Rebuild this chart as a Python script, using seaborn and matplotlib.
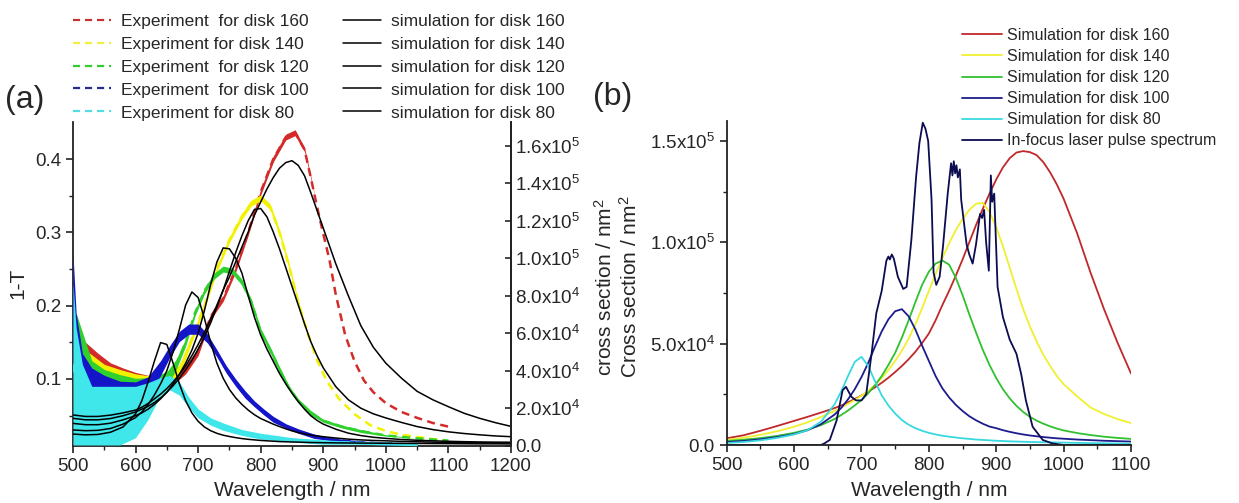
import numpy as np
import matplotlib
matplotlib.use("Agg")
import matplotlib.pyplot as plt
from matplotlib.ticker import MultipleLocator, FixedLocator
from matplotlib.lines import Line2D
import seaborn as sns

# ---------------- data: panel (a) experiments (1-T): mean and noise half-width ----------------
exp160_wl = [510, 520, 540, 560, 580, 600, 620, 640, 660, 680, 700, 720, 740, 760, 780, 800, 820, 840, 855, 870, 880, 890, 900, 910, 920, 935, 950, 965, 980, 1000, 1025, 1050, 1075, 1105]
exp160 = [0.125, 0.12, 0.11, 0.102, 0.097, 0.094, 0.093, 0.095, 0.100, 0.113, 0.137, 0.185, 0.210, 0.250, 0.300, 0.355, 0.400, 0.430, 0.436, 0.413, 0.375, 0.335, 0.298, 0.262, 0.215, 0.160, 0.124, 0.098, 0.082, 0.067, 0.055, 0.047, 0.040, 0.034]
exp160_sd = [0.03, 0.03, 0.025, 0.02, 0.018, 0.015, 0.012, 0.01, 0.008, 0.006, 0.005, 0.004, 0.004, 0.004, 0.004, 0.004, 0.004, 0.004, 0.004, 0.003, 0.002, 0, 0, 0, 0, 0, 0, 0, 0, 0, 0, 0, 0, 0]

exp140_wl = [510, 530, 550, 575, 600, 625, 650, 670, 690, 710, 730, 750, 770, 785, 800, 815, 830, 845, 860, 875, 890, 905, 925, 950, 975, 1000, 1025, 1050, 1075, 1100]
exp140 = [0.115, 0.108, 0.10, 0.095, 0.092, 0.092, 0.098, 0.112, 0.155, 0.20, 0.25, 0.29, 0.322, 0.34, 0.347, 0.335, 0.30, 0.255, 0.205, 0.162, 0.126, 0.098, 0.073, 0.052, 0.037, 0.029, 0.024, 0.021, 0.018, 0.015]
exp140_sd = [0.03, 0.025, 0.02, 0.018, 0.015, 0.012, 0.01, 0.007, 0.005, 0.004, 0.004, 0.004, 0.004, 0.004, 0.004, 0.004, 0.004, 0.004, 0.003, 0.002, 0, 0, 0, 0, 0, 0, 0, 0, 0, 0]

exp120_wl = [505, 530, 550, 575, 600, 625, 650, 665, 680, 695, 710, 725, 740, 755, 770, 785, 800, 815, 830, 845, 860, 880, 900, 930, 960, 1000, 1050, 1100]
exp120 = [0.13, 0.10, 0.093, 0.088, 0.086, 0.09, 0.10, 0.12, 0.15, 0.19, 0.22, 0.24, 0.25, 0.247, 0.232, 0.205, 0.165, 0.14, 0.113, 0.088, 0.07, 0.054, 0.043, 0.035, 0.029, 0.023, 0.019, 0.016]
exp120_sd = [0.06, 0.025, 0.02, 0.018, 0.015, 0.012, 0.01, 0.007, 0.005, 0.004, 0.004, 0.004, 0.004, 0.004, 0.004, 0.004, 0.004, 0.004, 0.004, 0.003, 0.003, 0.003, 0.002, 0.002, 0.002, 0.001, 0, 0]

exp100_wl = [500, 505, 515, 530, 550, 575, 600, 620, 640, 655, 670, 685, 700, 715, 730, 745, 760, 775, 790, 805, 820, 840, 860, 885, 910, 940, 970, 1010]
exp100 = [0.2, 0.14, 0.105, 0.09, 0.08, 0.075, 0.078, 0.09, 0.115, 0.138, 0.158, 0.168, 0.168, 0.155, 0.135, 0.113, 0.095, 0.079, 0.066, 0.055, 0.045, 0.036, 0.029, 0.022, 0.018, 0.015, 0.013, 0.012]
exp100_sd = [0.07, 0.05, 0.03, 0.025, 0.025, 0.022, 0.018, 0.013, 0.01, 0.008, 0.007, 0.007, 0.007, 0.006, 0.005, 0.005, 0.005, 0.005, 0.004, 0.004, 0.004, 0.003, 0.003, 0.003, 0.002, 0.002, 0.002, 0.002]

exp80_wl = [500, 505, 515, 530, 550, 575, 600, 620, 640, 655, 670, 685, 700, 720, 740, 770, 800, 850, 900, 950, 1000, 1050]
exp80 = [0.12, 0.09, 0.065, 0.05, 0.05, 0.05, 0.055, 0.07, 0.09, 0.095, 0.087, 0.068, 0.053, 0.042, 0.035, 0.027, 0.022, 0.017, 0.014, 0.013, 0.012, 0.011]
exp80_sd = [0.11, 0.08, 0.055, 0.04, 0.04, 0.04, 0.035, 0.025, 0.012, 0.01, 0.009, 0.007, 0.006, 0.005, 0.005, 0.004, 0.004, 0.003, 0.003, 0.002, 0.002, 0.002]

# ---------------- data: panel (a) simulations (cross section, 1e3 nm^2) ----------------
sim_a_wl = [500, 520, 540, 560, 580, 600, 610, 620, 630, 640, 650, 660, 670, 680, 690, 700, 710, 720, 730, 740, 750, 760, 770, 780, 790, 800, 810, 820, 830, 840, 850, 860, 870, 880, 890, 900, 920, 940, 960, 980, 1000, 1025, 1050, 1075, 1100, 1125, 1150, 1175, 1200]
sim_a_160 = [16.4, 15.6, 15.6, 16.3, 17.5, 19, 20.5, 22.5, 25, 27.5, 30.5, 34, 38, 42.5, 48, 54, 60.5, 67.5, 75, 83, 90, 98, 106, 114, 123, 130, 137, 143, 148, 151, 152, 149.5, 144, 135, 125.5, 116, 97, 80, 64, 52.5, 44, 36, 29, 24.5, 20.8, 17.3, 14.6, 12.3, 10.3]
sim_a_140 = [14.6, 13.8, 13.8, 14.5, 16, 18, 19.5, 21, 23, 25.5, 28.5, 32, 36, 40.5, 45.5, 51.5, 58, 65.5, 74, 83, 93, 103, 112, 120, 126, 126.5, 122, 114, 105, 95, 85, 75, 65, 55.5, 48, 41.5, 31.5, 24.5, 20, 17, 14.8, 12.4, 10.2, 8.6, 7.4, 6.5, 5.8, 5.2, 4.8]
sim_a_120 = [11.9, 11.2, 11.2, 12, 13.8, 16, 17.5, 19.5, 22, 25, 28.5, 33, 38, 44, 51, 60, 72, 86, 98, 105.5, 105, 100, 92, 80, 68.5, 59, 51.5, 45, 38.5, 33, 28, 23.5, 19.5, 16, 13.5, 11.5, 8.8, 6.7, 5.4, 4.5, 3.9, 3.3, 2.9, 2.6, 2.35, 2.15, 2.0, 1.9, 1.85]
sim_a_100 = [8.4, 8.0, 8.2, 9.2, 11.5, 15, 18, 22, 27, 33, 40, 50, 62, 75, 82, 79, 68, 55, 44, 36, 30, 25.5, 22, 19, 16.5, 14.5, 13, 11.5, 10.2, 9, 7.9, 7.0, 6.3, 5.7, 5.2, 4.8, 4.1, 3.5, 3.1, 2.8, 2.6, 2.3, 2.1, 1.9, 1.8, 1.7, 1.6, 1.5, 1.45]
sim_a_80 = [6.2, 5.8, 6.0, 7.2, 10, 17, 24, 34, 45, 55, 54, 44, 33, 24, 17.5, 13, 10, 8, 6.6, 5.6, 4.9, 4.3, 3.8, 3.4, 3.1, 2.8, 2.6, 2.4, 2.2, 2.1, 2.0, 1.9, 1.8, 1.7, 1.65, 1.6, 1.5, 1.45, 1.4, 1.35, 1.3, 1.25, 1.2, 1.15, 1.1, 1.05, 1.0, 1.0, 0.95]

# ---------------- data: panel (b) (cross section, 1e3 nm^2) ----------------
sim_b_wl = [500, 525, 550, 575, 600, 620, 640, 660, 670, 680, 690, 700, 710, 720, 730, 740, 750, 760, 770, 780, 790, 800, 810, 820, 830, 840, 850, 860, 870, 880, 890, 900, 910, 920, 930, 940, 950, 960, 970, 980, 990, 1000, 1020, 1040, 1060, 1080, 1100]
sim_b_160 = [3.3, 4.8, 7.0, 9.4, 11.9, 13.9, 16, 18.2, 19.5, 21, 22.7, 24.4, 26.3, 28.4, 30.7, 33.2, 36, 39, 42.3, 46, 50.3, 55, 61.5, 69, 76, 83.5, 91.5, 100, 108.5, 116.5, 124, 131, 137, 141.5, 144.3, 145, 144.5, 143, 139.5, 134.5, 128.5, 121.5, 104.5, 85, 67, 50.5, 35.3]
sim_b_140 = [2.5, 3.6, 5.0, 6.8, 9.0, 11.2, 13.8, 16.8, 18.5, 20.3, 22.2, 24.3, 26.8, 29.6, 33, 37, 41.5, 46.5, 52.5, 59.5, 67.5, 76, 84.5, 92, 99.5, 106, 111.5, 116, 119, 119.5, 115, 107.5, 98, 87.5, 77, 67, 58.5, 51, 44.5, 39, 34, 30, 24, 18.5, 15.3, 12.8, 10.8]
sim_b_120 = [2.0, 2.6, 3.4, 4.5, 6.0, 7.6, 9.8, 12.8, 14.8, 17, 19.5, 22.2, 25.5, 29.5, 34, 39.5, 45.5, 53, 61.5, 70.5, 79, 85.5, 89.5, 91, 89, 82.5, 74, 64.5, 55.5, 47, 39.5, 33, 27.5, 23, 19.3, 16.3, 13.9, 12, 10.5, 9.2, 8.1, 7.2, 5.9, 4.9, 4.1, 3.5, 3.0]
sim_b_100 = [1.5, 2.0, 2.8, 3.9, 5.4, 7.3, 10.3, 15, 18.3, 22.5, 27.5, 33.5, 40.5, 48.5, 56, 62, 66, 67, 63.5, 57, 49, 41.5, 34, 28, 23.5, 19.8, 16.8, 14.2, 12.2, 10.5, 9.1, 8.3, 7.3, 6.5, 5.8, 5.2, 4.7, 4.3, 3.9, 3.6, 3.3, 3.1, 2.7, 2.4, 2.1, 1.9, 1.7]
sim_b_80 = [1.0, 1.5, 2.3, 3.5, 5.2, 7.3, 11.5, 20, 26.5, 34, 41, 43.5, 39, 31.5, 24.5, 19.5, 15.5, 12.3, 10, 8.3, 7, 6, 5.2, 4.6, 4.1, 3.7, 3.3, 3.0, 2.7, 2.5, 2.3, 2.1, 1.95, 1.8, 1.7, 1.6, 1.5, 1.4, 1.35, 1.3, 1.25, 1.2, 1.05, 0.95, 0.85, 0.75, 0.65]

laser_wl = [500, 600, 640, 645, 653, 663, 672, 677, 685, 692, 700, 707, 715, 722, 730, 737, 740, 742, 745, 748, 754, 762, 767, 774, 781, 786, 791, 795, 799, 804, 807, 811, 816, 821, 828, 833, 835, 837, 839, 841, 843, 846, 848, 856, 860, 865, 870, 876, 879, 882, 885, 889, 892, 894, 897, 902, 910, 920, 930, 937, 944, 954, 969, 983, 1000, 1100]
laser = [0, 0, 0, 0.8, 2.5, 12, 27, 28.7, 23.8, 22, 22, 25, 45, 65, 76, 91, 93, 91.5, 94, 92, 83, 77, 78, 101, 132, 149, 159, 156, 150, 121, 85, 79, 83, 98, 124, 139, 133, 140, 134, 138, 132, 136, 121, 99, 94, 89.5, 99, 114, 112, 116, 100, 86, 133, 120, 124, 78, 63, 52, 45, 35, 22, 9, 2.5, 0.8, 0, 0]

exp_labels = ["Experiment  for disk 160", "Experiment for disk 140", "Experiment  for disk 120",
              "Experiment  for disk 100", "Experiment for disk 80"]
sim_labels_a = ["simulation for disk 160", "simulation for disk 140", "simulation for disk 120",
                "simulation for disk 100", "simulation for disk 80"]
sim_labels_b = ["Simulation for disk 160", "Simulation for disk 140", "Simulation for disk 120",
                "Simulation for disk 100", "Simulation for disk 80"]
laser_label = "In-focus laser pulse spectrum"

# ---------------- style ----------------
sns.set_theme(style="ticks")
plt.rcParams["font.family"] = ["Liberation Sans", "DejaVu Sans"]
plt.rcParams["mathtext.fontset"] = "custom"
plt.rcParams["mathtext.rm"] = "Liberation Sans"
plt.rcParams["mathtext.it"] = "Liberation Sans:italic"
plt.rcParams["mathtext.bf"] = "Liberation Sans:bold"
plt.rcParams["axes.linewidth"] = 1.3
plt.rcParams["axes.edgecolor"] = "#222222"

exp_colors = ["#d42a2a", "#f2f200", "#2ed12e", "#1414c8", "#3fe6ea"]
exp_leg_colors = ["#c83232", "#f0f040", "#33cc33", "#2a2a8a", "#55dde6"]
b_colors = ["#c0282a", "#f0f030", "#30c030", "#1c1c8c", "#38d8e0"]
laser_color = "#0c0c50"

fig = plt.figure(figsize=(12.39, 5.03), dpi=100)
ax = fig.add_axes([73 / 1239, 1 - 445.7 / 503, (511 - 73) / 1239, (445.7 - 121.7) / 503])
axr = ax.twinx()
axb = fig.add_axes([726.7 / 1239, 1 - 445 / 503, (1131 - 726.7) / 1239, (445 - 120.7) / 503])

# ---- panel (a) experiments: dashed line, then its noise band on top (drawn 160 -> 80)
exps = [(exp160_wl, exp160, exp160_sd), (exp140_wl, exp140, exp140_sd), (exp120_wl, exp120, exp120_sd),
        (exp100_wl, exp100, exp100_sd), (exp80_wl, exp80, exp80_sd)]
z = 1
for (wl, v, sd), c in zip(exps, exp_colors):
    v = np.array(v); sd = np.array(sd)
    sns.lineplot(x=wl, y=v, ax=ax, color=c, lw=1.8, sort=False, estimator=None, zorder=z)
    ax.lines[-1].set_dashes((3.2, 2.2))
    ax.fill_between(wl, v - sd, v + sd, color=c, lw=0, zorder=z + 0.5)
    z += 1
ax.set_xlim(500, 1200)
ax.set_ylim(0.009, 0.451)

# ---- panel (a) simulations on right axis
for sim in [sim_a_160, sim_a_140, sim_a_120, sim_a_100, sim_a_80]:
    sns.lineplot(x=sim_a_wl, y=np.array(sim) * 1e3, ax=axr, color="black", lw=1.1, sort=False, estimator=None)
axr.set_ylim(0, 1.728e5)
axr.set_xlim(500, 1200)

# ---- panel (b)
for sim, c in zip([sim_b_160, sim_b_140, sim_b_120, sim_b_100, sim_b_80], b_colors):
    sns.lineplot(x=sim_b_wl, y=np.array(sim) * 1e3, ax=axb, color=c, lw=1.3, sort=False, estimator=None)
sns.lineplot(x=laser_wl, y=np.array(laser) * 1e3, ax=axb, color=laser_color, lw=1.3, sort=False, estimator=None)
axb.set_xlim(500, 1100)
axb.set_ylim(0, 1.6e5)

# ---- ticks / spines
tick_fs = 13.5
for a in (ax, axb):
    a.tick_params(axis="both", which="major", direction="out", length=5, width=1.2, labelsize=tick_fs, color="#222222")
    a.tick_params(axis="both", which="minor", direction="out", length=3, width=1.0, color="#222222")
    a.xaxis.set_major_locator(MultipleLocator(100))
    a.xaxis.set_minor_locator(MultipleLocator(50))
ax.spines["top"].set_visible(False)
axr.spines["top"].set_visible(False)
axr.spines["left"].set_visible(False)
axr.spines["bottom"].set_visible(False)
axb.spines["top"].set_visible(False)
axb.spines["right"].set_visible(False)
ax.yaxis.set_major_locator(FixedLocator([0.1, 0.2, 0.3, 0.4]))
ax.yaxis.set_minor_locator(FixedLocator([0.05, 0.15, 0.25, 0.35]))
ax.set_yticklabels(["0.1", "0.2", "0.3", "0.4"])


def sci(v):
    if v == 0:
        return "0.0"
    e = int(np.floor(np.log10(v)))
    m = v / 10 ** e
    return f"{m:.1f}x10$^{{{e}}}$"


rt = [i * 2e4 for i in range(9)]
axr.yaxis.set_major_locator(FixedLocator(rt))
axr.set_yticklabels([sci(v) for v in rt])
axr.tick_params(axis="y", which="major", direction="in", length=4, width=1.2, labelsize=tick_fs, pad=3)
bt = [0, 5e4, 1e5, 1.5e5]
axb.yaxis.set_major_locator(FixedLocator(bt))
axb.yaxis.set_minor_locator(FixedLocator([2.5e4, 7.5e4, 1.25e5]))
axb.set_yticklabels([sci(v) for v in bt])

for a in (ax, axr, axb):
    a.set_xlabel("")
    a.set_ylabel("")

lab_fs = 15
fig.text(292 / 1239, 1 - 490 / 503, "Wavelength / nm", ha="center", va="center", fontsize=lab_fs)
fig.text(929 / 1239, 1 - 490 / 503, "Wavelength / nm", ha="center", va="center", fontsize=lab_fs)
fig.text(18 / 1239, 1 - 283 / 503, "1-T", ha="center", va="center", rotation=90, fontsize=lab_fs)
fig.text(605 / 1239, 1 - 287 / 503, "cross section / nm$^2$", ha="center", va="center", rotation=90, fontsize=lab_fs)
fig.text(630 / 1239, 1 - 287 / 503, "Cross section / nm$^2$", ha="center", va="center", rotation=90, fontsize=lab_fs)
fig.text(25 / 1239, 1 - 100 / 503, "(a)", ha="center", va="center", fontsize=23)
fig.text(613 / 1239, 1 - 97 / 503, "(b)", ha="center", va="center", fontsize=23)

# ---- legends
handles_a = [Line2D([], [], color=c, lw=1.6, dashes=(3.2, 2.2)) for c in exp_leg_colors] + \
            [Line2D([], [], color="black", lw=1.1) for _ in range(5)]
fig.legend(handles_a, exp_labels + sim_labels_a, ncol=2, loc="upper left",
           bbox_to_anchor=(73 / 1239, 1 - 13.5 / 503), frameon=False, fontsize=12.5,
           handlelength=2.2, handletextpad=0.57, columnspacing=1.95, labelspacing=0.45,
           borderpad=0, borderaxespad=0)
handles_b = [Line2D([], [], color=c, lw=1.3) for c in b_colors] + [Line2D([], [], color=laser_color, lw=1.3)]
fig.legend(handles_b, sim_labels_b + [laser_label], loc="upper left",
           bbox_to_anchor=(962 / 1239, 1 - 28 / 503), frameon=False, fontsize=11.5,
           handlelength=2.5, handletextpad=0.3, labelspacing=0.38, borderpad=0, borderaxespad=0)

fig.savefig("out.png", dpi=100)
